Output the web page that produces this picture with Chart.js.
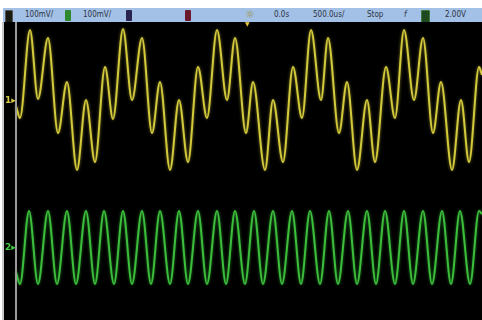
<!DOCTYPE html>
<html><head><meta charset="utf-8">
<script src="https://cdn.jsdelivr.net/npm/chart.js@4.4.1/dist/chart.umd.min.js"></script>
<style>
html,body{margin:0;padding:0;background:#fff;width:482px;height:320px;overflow:hidden;}
#bar{position:absolute;left:3px;top:8px;width:479px;height:14px;background:#a3c0e6;font-family:"DejaVu Sans Condensed","DejaVu Sans",sans-serif;font-size:8px;color:#2c3340;}
#bar span{position:absolute;top:2px;line-height:10px;white-space:nowrap;}
.box{position:absolute;top:2px;height:11px;width:6px;border-radius:1px;}
#plot{position:absolute;left:4px;top:22px;width:478px;height:298px;background:#000;}
#edge{position:absolute;left:2px;top:22px;width:2px;height:298px;background:#c8c8c8;}
#vline{position:absolute;left:15px;top:22px;width:2px;height:298px;background:#9a9a9a;}
.mk{position:absolute;font-family:"DejaVu Sans",sans-serif;font-size:9px;font-weight:bold;line-height:9px;}
</style></head>
<body>
<div id="bar">
  <div class="box" style="left:2px;background:#1a1a10;border:1px solid #555"></div>
  <span style="left:22px">100mV/</span>
  <div class="box" style="left:62px;background:#2f8a2f"></div>
  <span style="left:80px">100mV/</span>
  <div class="box" style="left:123px;background:#2a2450"></div>
  <div class="box" style="left:182px;background:#6a1a2a"></div>
  <span style="left:242px;top:0px;font-size:11px;line-height:13px;color:#9a9040;font-family:'DejaVu Sans',sans-serif">☼</span>
  <span style="left:271px">0.0s</span>
  <span style="left:310px">500.0us/</span>
  <span style="left:364px">Stop</span>
  <span style="left:401px;font-style:italic">f</span>
  <div class="box" style="left:418px;width:7px;background:#1f4a1f;border:1px solid #3a7a3a"></div>
  <span style="left:442px">2.00V</span>
</div>
<div id="plot"><canvas id="c" width="478" height="298"></canvas></div>
<div id="edge"></div>
<div id="vline"></div>
<div class="mk" style="left:5px;top:96px;color:#d8cc40">1▸</div>
<div class="mk" style="left:5px;top:243px;color:#40d040">2▸</div>
<div class="mk" style="left:245px;top:21px;color:#e8c840;font-size:6px;line-height:6px">▼</div>
<script>
// Channel 1 (yellow) turning points
const ch1Time  = [16,20,30,38,48,58,67,77,86,95,105,113,123,132,142,152,160,170,179,188,198,207,217,227,235,246,253,265,273,283,293,302,311,321,328,339,347,357,367,375,386,395,404,414,423,433,441,452,461,469,479,482];
const ch1Level = [106,118,30,99,38,133,82,170,100,162,67,119,29,100,38,133,82,170,100,162,67,118,30,100,38,133,82,170,100,162,67,118,30,100,38,133,82,170,100,162,67,118,30,100,38,133,82,170,100,162,67,75];
// Channel 2 (green) turning points
const ch2Time  = [16,20,29,38,48,57,67,76,86,95,104,114,123,132,142,151,160,170,179,188,198,207,217,226,235,245,254,263,273,282,292,301,310,320,329,338,348,357,367,376,385,395,404,413,423,432,442,451,460,470,479,482];
const ch2Level = [272,284,211,284,211,284,211,284,211,284,211,284,211,284,211,284,211,284,211,284,211,284,211,284,211,284,211,284,211,284,211,284,211,284,211,284,211,284,211,284,211,284,211,284,211,284,211,284,211,284,211,214];

const pts = (xs, ys) => xs.map((x, i) => ({x, y: ys[i]}));
const glow = {
  id: 'glow',
  beforeDatasetDraw(chart, args) {
    const ctx = chart.ctx; ctx.save();
    ctx.shadowColor = args.index === 0 ? 'rgba(220,210,60,0.6)' : 'rgba(60,210,60,0.6)';
    ctx.shadowBlur = 3;
  },
  afterDatasetDraw(chart) { chart.ctx.restore(); }
};
new Chart(document.getElementById('c'), {
  type: 'line',
  data: { datasets: [
    { data: pts(ch1Time, ch1Level), borderColor: '#d2c93c', borderWidth: 2, pointRadius: 0, cubicInterpolationMode: 'monotone' },
    { data: pts(ch2Time, ch2Level), borderColor: '#3cbe3c', borderWidth: 2, pointRadius: 0, cubicInterpolationMode: 'monotone' }
  ]},
  options: {
    responsive: false, animation: false, devicePixelRatio: 1,
    layout: { padding: 0 },
    plugins: { legend: { display: false }, tooltip: { enabled: false } },
    scales: {
      x: { type: 'linear', min: 4, max: 482, display: false },
      y: { type: 'linear', min: 22, max: 320, reverse: true, display: false }
    }
  },
  plugins: [glow]
});
</script>
</body></html>
